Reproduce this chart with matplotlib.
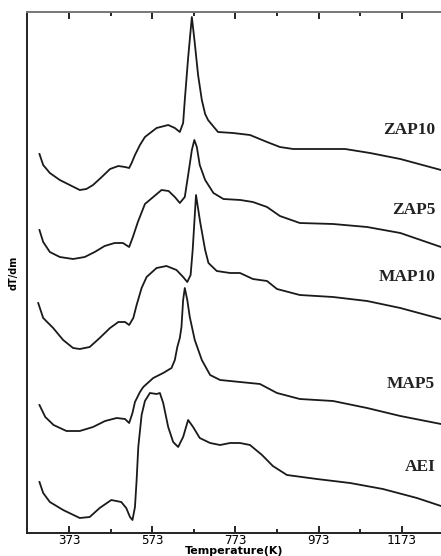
import matplotlib
matplotlib.use('Agg')
import matplotlib.pyplot as plt

# temperature (K) and signal (arbitrary units, curves stacked)
zap10_t = [301, 310, 326, 350, 374, 398, 414, 430, 451, 471, 491, 507, 517, 523, 531, 543, 555, 583, 611, 627,
           639, 647, 651, 659, 668, 675, 683, 692, 700, 707, 731, 767, 808, 849, 880, 912, 977, 1037, 1097, 1170, 1268]
zap10_y = [379, 368, 360, 353, 348, 343, 344, 348, 356, 364, 367, 366, 365, 370, 378, 388, 396, 405, 408, 405,
           401, 410, 433, 475, 516, 490, 458, 433, 419, 413, 401, 400, 398, 391, 386, 384, 384, 384, 380, 374, 363]

zap5_t = [301, 310, 326, 350, 382, 410, 434, 458, 482, 502, 517, 526, 538, 555, 595, 612, 627, 639, 651, 662,
          668, 674, 680, 687, 700, 720, 744, 785, 815, 849, 880, 928, 1008, 1090, 1170, 1268]
zap5_y = [303, 291, 281, 276, 274, 276, 281, 287, 290, 290, 286, 296, 311, 329, 343, 342, 336, 330, 336, 366,
          383, 393, 386, 368, 353, 340, 334, 333, 331, 326, 317, 310, 309, 306, 300, 286]

map10_t = [298, 310, 334, 358, 382, 398, 422, 446, 471, 491, 507, 517, 527, 535, 547, 559, 583, 607, 631, 647,
           657, 665, 670, 678, 688, 700, 708, 728, 760, 784, 815, 849, 873, 928, 1008, 1090, 1170, 1268]
map10_y = [230, 215, 205, 193, 185, 184, 186, 195, 205, 211, 211, 208, 215, 228, 245, 256, 265, 267, 263, 256,
           251, 258, 283, 338, 311, 283, 270, 262, 260, 260, 254, 252, 244, 238, 236, 232, 225, 214]

map5_t = [301, 315, 335, 366, 398, 430, 459, 487, 507, 517, 525, 531, 543, 551, 575, 599, 619, 627, 633, 639,
          643, 647, 651, 657, 663, 675, 692, 712, 736, 784, 832, 873, 928, 1008, 1090, 1170, 1268]
map5_y = [128, 116, 108, 102, 102, 106, 112, 115, 114, 110, 120, 131, 141, 146, 155, 160, 165, 173, 186, 195,
          206, 233, 245, 233, 216, 193, 173, 158, 153, 151, 149, 140, 134, 132, 125, 117, 109]

aei_t = [301, 310, 326, 358, 398, 422, 446, 474, 498, 510, 519, 525, 531, 535, 539, 547, 555, 567, 583, 591,
         599, 611, 623, 635, 647, 659, 671, 687, 712, 736, 760, 784, 808, 837, 863, 897, 969, 1049, 1128, 1210, 1268]
aei_y = [51, 40, 31, 23, 15, 16, 25, 33, 31, 25, 16, 13, 26, 53, 86, 118, 132, 140, 139, 140,
         130, 106, 91, 86, 96, 113, 106, 95, 90, 88, 90, 90, 88, 78, 67, 58, 54, 50, 44, 35, 27]

names = ['ZAP10', 'ZAP5', 'MAP10', 'MAP5', 'AEI']
label_y = [403, 323, 256, 149, 66]

fig = plt.figure(figsize=(4.41, 5.56), dpi=100)
ax = fig.add_axes([27/441, 23/556, 1 - 27/441, 521/556])

curves = [(zap10_t, zap10_y), (zap5_t, zap5_y), (map10_t, map10_y), (map5_t, map5_y), (aei_t, aei_y)]
for (t, y) in curves:
    ax.plot(t, y, color='#1a1a1a', lw=1.3, solid_joinstyle='round')

for name, ly in zip(names, label_y):
    ax.text(1254, ly, name, ha='right', va='center', fontsize=12.5,
            fontweight='bold', family='Liberation Serif', color='#222222')

ax.set_xlim(271, 1268)
ax.set_ylim(0, 521)
ax.set_xticks([373, 573, 773, 973, 1173])
ax.set_xticks([473, 673, 873, 1073], minor=True)
ax.set_yticks([])
ax.tick_params(axis='x', which='major', direction='in', top=True, length=5, width=1.2,
               labelsize=9, pad=1)
ax.tick_params(axis='x', which='minor', direction='in', top=True, length=3, width=1.2)
for lab in ax.get_xticklabels():
    lab.set_family('DejaVu Sans Mono')
ax.spines['right'].set_visible(False)
for s in ['left', 'bottom', 'top']:
    ax.spines[s].set_linewidth(1.4)
    ax.spines[s].set_color('#222222')
ax.spines['top'].set_color('#777777')

ax.set_xlabel('Temperature(K)', fontsize=8, labelpad=-1, fontweight='bold')
ax.set_ylabel('dT/dm', fontsize=7, labelpad=6, fontweight='bold')

fig.savefig('out.png', dpi=100)
